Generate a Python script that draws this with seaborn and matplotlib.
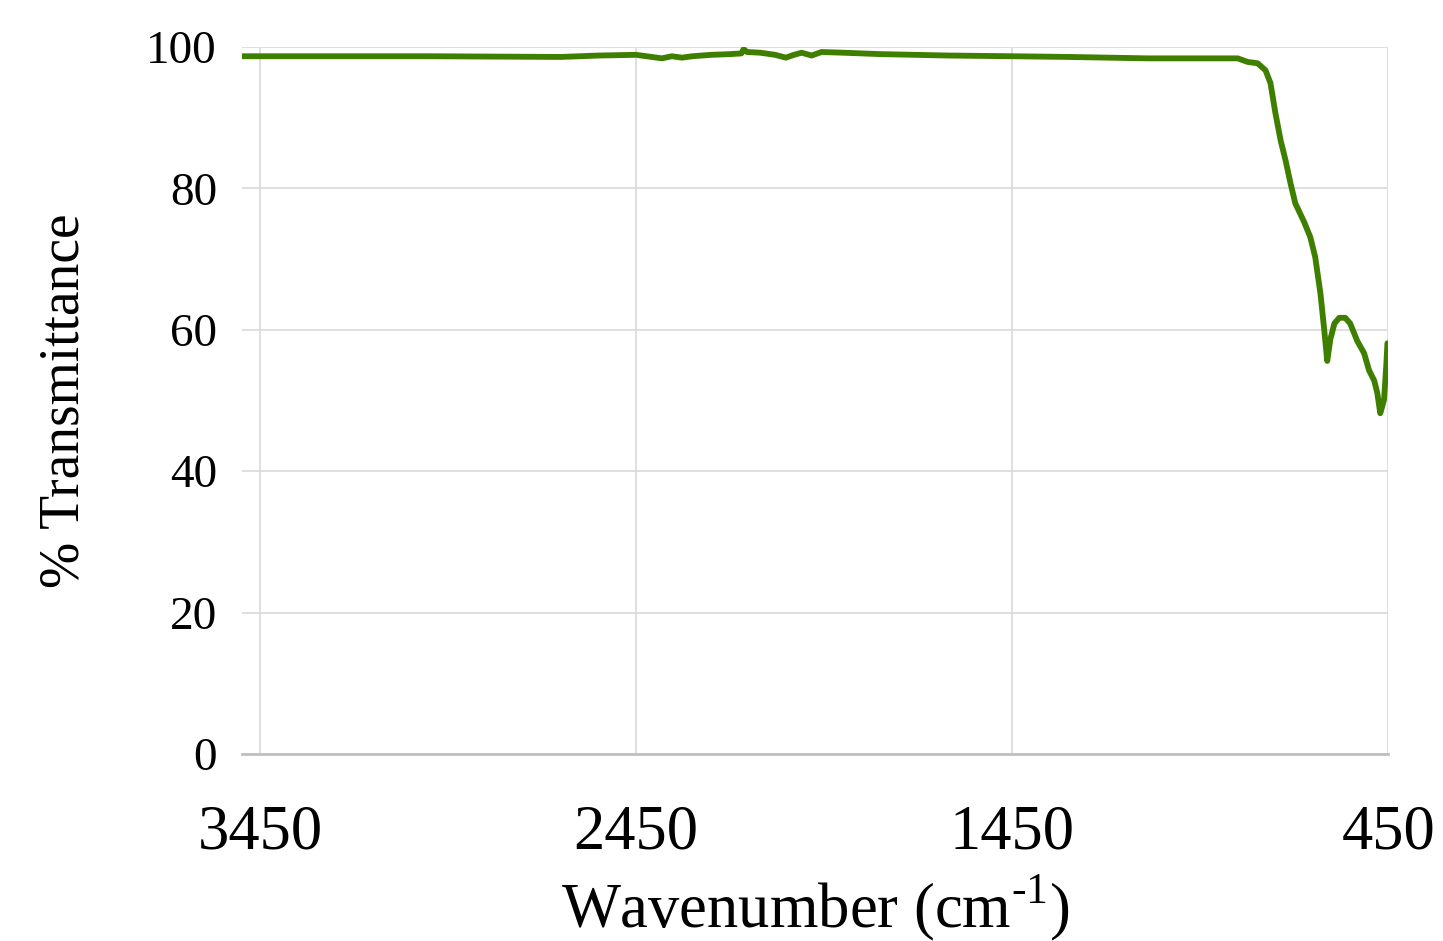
import matplotlib
matplotlib.use("Agg")
import matplotlib.pyplot as plt
import seaborn as sns
import pandas as pd

wavenumber = [3498, 3450, 3000, 2650, 2550, 2450, 2381, 2355, 2328, 2300, 2250, 2200,
              2170, 2164, 2155, 2120, 2080, 2052, 2030, 2010, 1983, 1957, 1900, 1800,
              1620, 1450, 1300, 1089, 950, 850, 824, 797, 776, 763, 750, 736, 723,
              710, 697, 673, 657, 644, 630, 620, 612, 604, 593, 580, 564, 551, 532,
              514, 501, 487, 479, 471, 461, 455, 452]
transmittance = [98.7, 98.7, 98.7, 98.6, 98.8, 98.9, 98.4, 98.7, 98.5, 98.7, 98.9, 99.0,
                 99.1, 99.7, 99.3, 99.2, 98.9, 98.5, 98.9, 99.2, 98.8, 99.3, 99.2, 99.0,
                 98.8, 98.7, 98.6, 98.4, 98.4, 98.4, 97.9, 97.7, 96.7, 94.9, 90.7, 86.8, 84.0,
                 80.8, 77.9, 75.2, 73.1, 70.3, 65.1, 60.0, 55.6, 58.6, 60.9, 61.7, 61.7, 60.9, 58.4,
                 56.7, 54.3, 52.8, 51.1, 48.2, 50.1, 55.0, 58.1]

x_ticks = [3450, 2450, 1450, 450]
y_ticks = [0, 20, 40, 60, 80, 100]

df = pd.DataFrame({"Wavenumber": wavenumber, "Transmittance": transmittance})

sns.set_style("white")
plt.rcParams["font.family"] = ["Liberation Serif", "DejaVu Serif"]
plt.rcParams["mathtext.fontset"] = "custom"
plt.rcParams["mathtext.rm"] = "Liberation Serif"
plt.rcParams["text.color"] = "black"
plt.rcParams["axes.labelcolor"] = "black"
plt.rcParams["xtick.color"] = "black"
plt.rcParams["ytick.color"] = "black"

fig = plt.figure(figsize=(14.43, 9.41), dpi=100)
ax = fig.add_axes([0.1677, 0.1987, 0.962 - 0.1677, 0.950 - 0.1987])

sns.lineplot(data=df, x="Wavenumber", y="Transmittance", ax=ax, color="#3f7f00",
             linewidth=4.2, sort=False, estimator=None)

ax.set_xlim(3498, 450)
ax.set_ylim(0, 100)
ax.set_xticks(x_ticks)
ax.set_yticks(y_ticks)
ax.set_xticklabels([str(t) for t in x_ticks], fontsize=45)
ax.set_yticklabels([str(t) for t in y_ticks], fontsize=34)
ax.tick_params(axis="x", length=0, pad=36)
ax.tick_params(axis="y", length=0, pad=18)

ax.grid(True, color="#d9d9d9", linewidth=1.2)
ax.set_axisbelow(True)
for s in ["left", "right", "top"]:
    ax.spines[s].set_visible(False)
ax.spines["bottom"].set_color("#bfbfbf")
ax.spines["bottom"].set_linewidth(2)

ax.set_xlabel("Wavenumber (cm$^{\\mathregular{\u2010}1}$)", fontsize=45, labelpad=8)
ax.set_ylabel("% Transmittance", fontsize=40, labelpad=40)

fig.savefig("out.png", dpi=100, facecolor="white")
